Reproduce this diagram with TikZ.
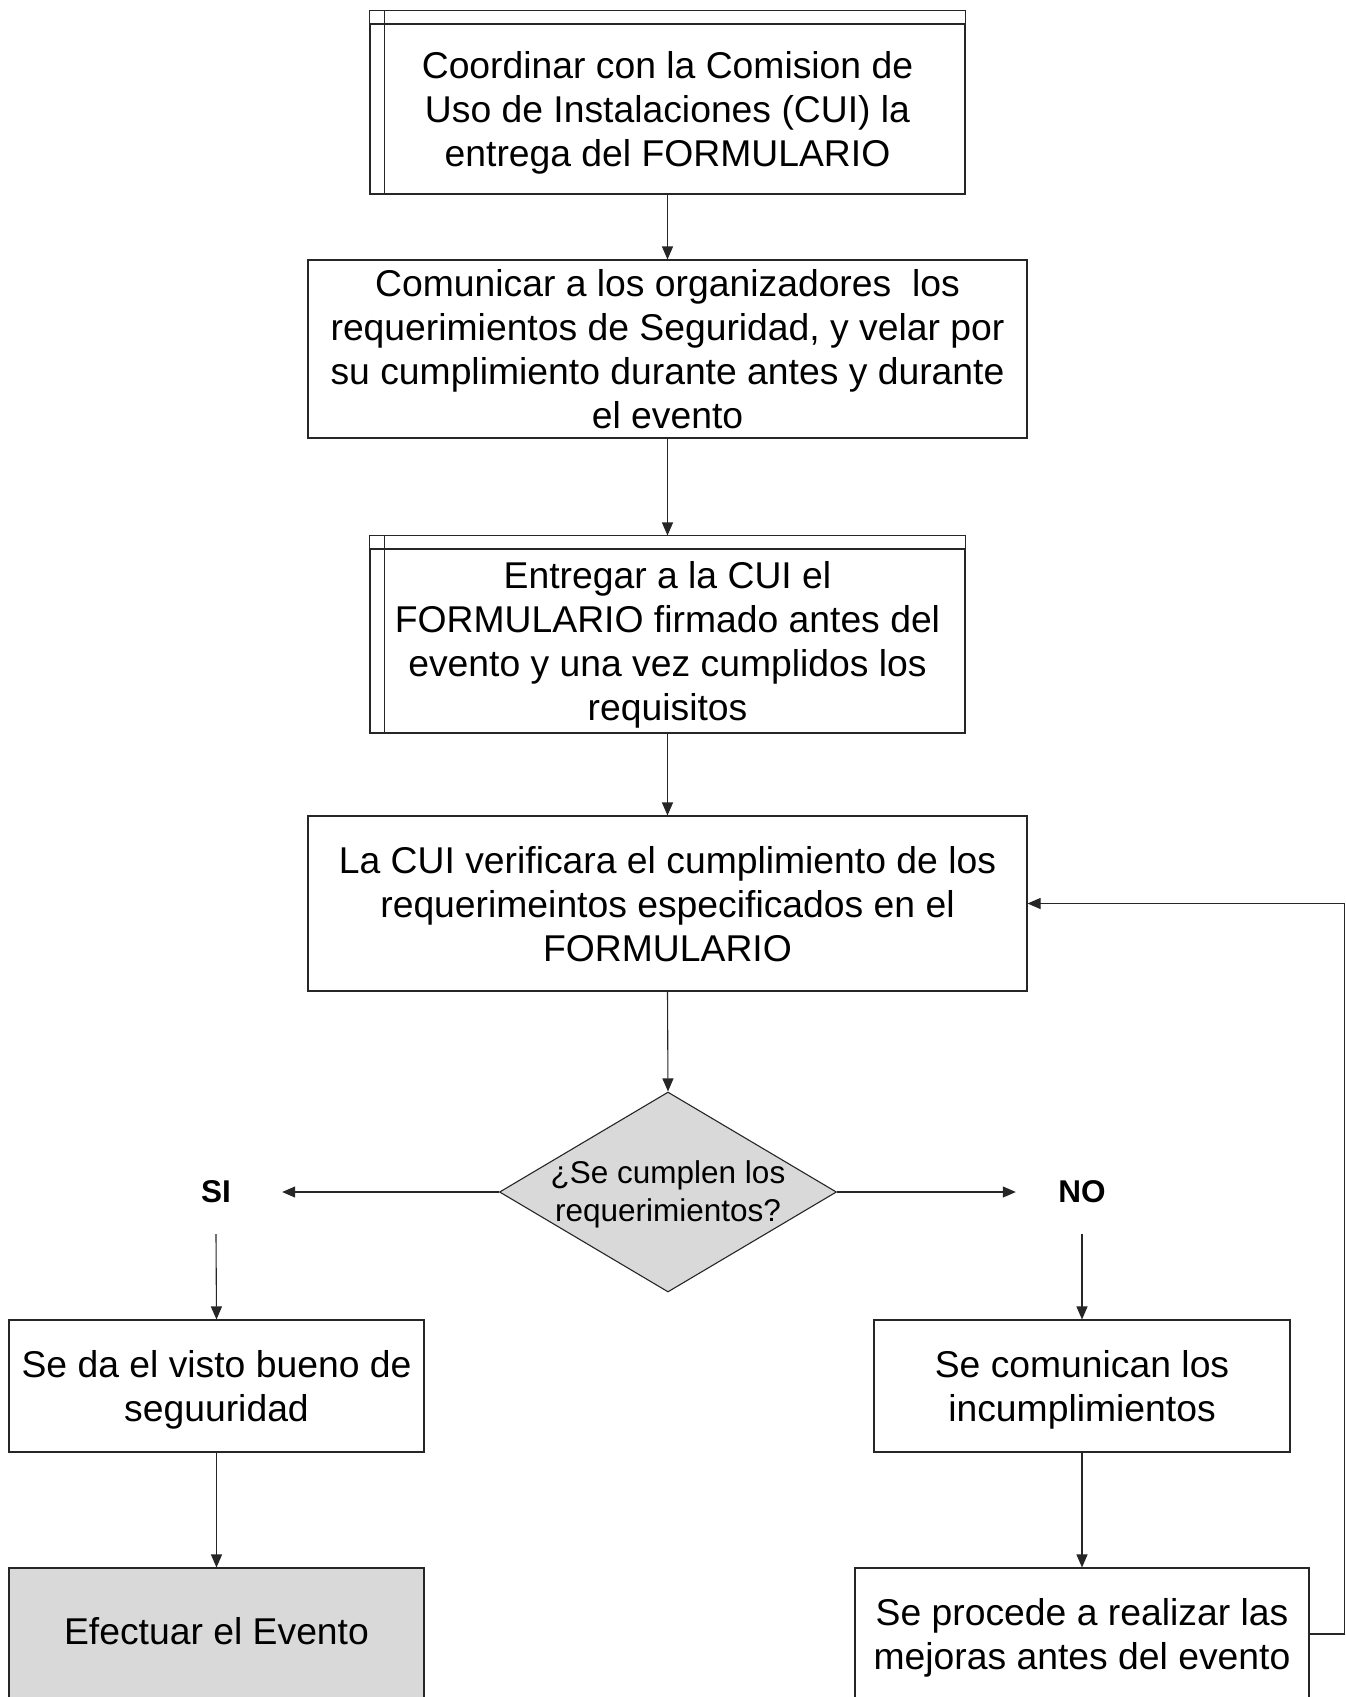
\documentclass[tikz,border=0pt]{standalone}
\usepackage{fontspec}
\setmainfont{Liberation Sans}
\usetikzlibrary{arrows.meta,shapes.geometric,calc}
\definecolor{boxgray}{HTML}{D9D9D9}
\definecolor{linec}{HTML}{262626}
\newcommand\topst{\rule{0pt}{36pt}}
\newcommand\botst{\rule[-9pt]{0pt}{9pt}}
\newcommand\efftopst{\rule{0pt}{29.4pt}}
\newcommand\diatopst{\rule{0pt}{27.6pt}}
\newcommand\diabotst{\rule[-7pt]{0pt}{7pt}}
\begin{document}
\begin{tikzpicture}[x=1pt,y=-1pt,
  box/.style={draw=linec, line width=1.1pt, rectangle, inner sep=0pt, align=center,
              font=\fontsize{37.3}{44}\selectfont},
  edge/.style={draw=linec, line width=1.1pt},
  arr/.style={edge, -{Triangle[length=13pt,width=11pt]}},
  lbl/.style={inner sep=0pt, font=\fontsize{31.5}{38}\selectfont\bfseries,
              minimum width=132pt, minimum height=84pt}]
\useasboundingbox[fill=white] (0,0) rectangle (1346,1697);
\clip (0,0) rectangle (1346,1697);

% box 1 (predefined process)
\node[box, minimum width=595pt, minimum height=170pt] (n1) at (667.5,109)
  {\topst Coordinar con la Comision de\\Uso de Instalaciones (CUI) la\\entrega del FORMULARIO\botst};
\draw[edge] (n1.north west) -- ++(0,-13) -| (n1.north east);
\draw[edge] ($(n1.north west)+(15,-13)$) -- ($(n1.south west)+(15,0)$);

% box 2
\node[box, minimum width=719pt, minimum height=178pt] (n2) at (667.5,349)
  {\topst Comunicar a los organizadores\ \ los\\requerimientos de Seguridad, y velar por\\su cumplimiento durante antes y durante\\el evento\botst};

% box 3 (predefined process)
\node[box, minimum width=595pt, minimum height=184pt] (n3) at (667.5,641)
  {\topst Entregar a la CUI el\\FORMULARIO firmado antes del\\evento y una vez cumplidos los\\requisitos\botst};
\draw[edge] (n3.north west) -- ++(0,-13) -| (n3.north east);
\draw[edge] ($(n3.north west)+(15,-13)$) -- ($(n3.south west)+(15,0)$);

% box 4
\node[box, minimum width=719pt, minimum height=175pt] (n4) at (667.5,903.5)
  {\topst La CUI verificara el cumplimiento de los\\requerimeintos especificados en el\\FORMULARIO\botst};

% decision
\node[diamond, draw=linec, line width=1.1pt, fill=boxgray, inner sep=0pt,
      minimum width=337pt, minimum height=200pt,
      label={[font=\fontsize{31.5}{38}\selectfont, align=center, inner sep=0pt]center:\diatopst ¿Se cumplen los\\requerimientos?\diabotst}]
      (dia) at (668,1192) {};

% labels
\node[lbl] (si) at (216,1192) {SI};
\node[lbl] (no) at (1082,1192) {NO};

% lower boxes
\node[box, minimum width=415pt, minimum height=132pt] (b5) at (216.5,1386)
  {\topst Se da el visto bueno de\\seguuridad\botst};
\node[box, fill=boxgray, minimum width=415pt, minimum height=132pt] (b6) at (216.5,1634)
  {\efftopst Efectuar el Evento\botst};
\node[box, minimum width=416pt, minimum height=132pt] (b7) at (1082,1386)
  {\topst Se comunican los\\incumplimientos\botst};
\node[box, minimum width=454pt, minimum height=132pt] (b8) at (1082,1634)
  {\topst Se procede a realizar las\\mejoras antes del evento\botst};

% connectors
\draw[arr] (n1.south) -- (n2.north);
\draw[arr] (n2.south) -- ($(n3.north)+(0,-13)$);
\draw[arr] (n3.south) -- (n4.north);
\draw[arr] (n4.south) -- (dia.north);
\draw[arr] (dia.west) -- (si.east);
\draw[arr] (dia.east) -- (no.west);
\draw[arr] (si.south) -- (b5.north);
\draw[arr] (no.south) -- (b7.north);
\draw[arr] (b5.south) -- (b6.north);
\draw[arr] (b7.south) -- (b8.north);
\draw[arr] (b8.east) -- ++(35,0) |- (n4.east);
\end{tikzpicture}
\end{document}
